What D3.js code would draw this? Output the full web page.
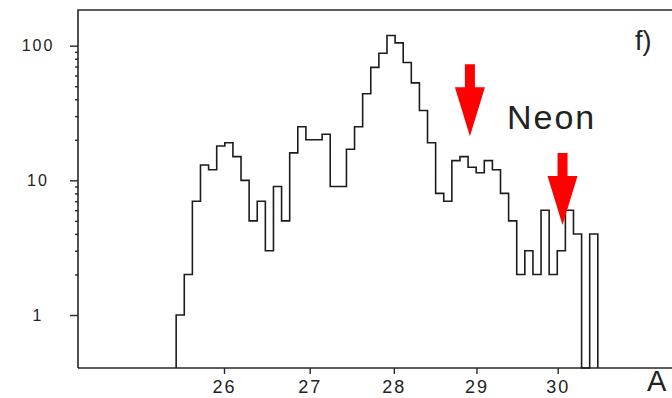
<!DOCTYPE html>
<html>
<head>
<meta charset="utf-8">
<script src="https://cdn.jsdelivr.net/npm/d3@7"></script>
<style>
  body { margin: 0; background: #fff; }
  svg { display: block; }
  text { font-family: "Liberation Sans", Arial, sans-serif; fill: #222; }
</style>
</head>
<body>
<script>
// Counts per channel of the mass histogram (log scale, uniform channels)
const counts = [1, 2, 7, 13, 12, 18, 19, 15, 10, 5, 7, 3, 9, 5, 16, 25, 20, 20, 22, 9,
                9, 17, 25, 44, 69, 88, 119, 105, 75, 53, 33, 19, 8, 7, 14, 15, 12.5, 11.4, 14, 12,
                8, 5, 2, 3, 2, 6, 2, 3, 6, 4, 0, 4];
// Mass range covered by the channels
const massLow = 25.45;
const massHigh = 30.5;
// Axis ticks
const massTicks = [26, 27, 28, 29, 30];
const countTicks = [1, 10, 100];
const minorCountTicks = [2, 3, 4, 5, 6, 7, 8, 9, 20, 30, 40, 50, 60, 70, 80, 90];
// Marked neon isotopes (arrow tips, in mass / count units)
const arrowTips = [
  { mass: 28.92, count: 21.3 },
  { mass: 30.06, count: 4.66 }
];
const panelLabel = "f)";
const elementLabel = "Neon";
const massAxisLabel = "A";

const W = 672, H = 398;
const frame = { left: 78, top: 10, right: 672, bottom: 368 };

const svg = d3.select("body").append("svg")
  .attr("width", W).attr("height", H);
svg.append("rect").attr("width", W).attr("height", H).attr("fill", "#fff");

// Mass axis is compressed toward high A (square-root spacing)
const x = d3.scalePow().exponent(0.5).domain([26, 30]).range([224, 557.7]);
const y = d3.scaleLog().domain([1, 100]).range([315, 45.7]);
const channel = d3.scaleLinear().domain([0, counts.length]).range([x(massLow), x(massHigh)]);

const yv = c => (c > 0 ? y(c) : frame.bottom);

// Frame
const ink = "#262626";
svg.append("path")
  .attr("d", `M${frame.left},${frame.bottom}V${frame.top}H${frame.right}`)
  .attr("fill", "none").attr("stroke", ink).attr("stroke-width", 1.6);
svg.append("line")
  .attr("x1", frame.left).attr("x2", frame.right)
  .attr("y1", frame.bottom).attr("y2", frame.bottom)
  .attr("stroke", ink).attr("stroke-width", 1.6);

// Bottom axis
const xAxis = svg.append("g")
  .attr("transform", `translate(0,${frame.bottom})`)
  .call(d3.axisBottom(x).tickValues(massTicks).tickSize(6).tickPadding(6).tickFormat(d3.format("d")));
xAxis.select(".domain").remove();
xAxis.selectAll("line").attr("stroke", ink).attr("stroke-width", 1.4);
xAxis.selectAll("text")
  .attr("font-size", 18).attr("letter-spacing", 2).attr("fill", "#222")
  .style("font-family", "'Liberation Sans', Arial, sans-serif");

// Left axis: major ticks with labels, minor ticks without
const yAxis = svg.append("g")
  .attr("transform", `translate(${frame.left},0)`)
  .call(d3.axisLeft(y).tickValues(countTicks).tickSize(8).tickFormat(d3.format("d")));
yAxis.select(".domain").remove();
yAxis.selectAll("line").attr("stroke", ink).attr("stroke-width", 1.4);
yAxis.selectAll("text")
  .attr("text-anchor", "middle").attr("x", -40)
  .attr("font-size", 16).attr("letter-spacing", 2).attr("fill", "#222")
  .style("font-family", "'Liberation Sans', Arial, sans-serif");

const yMinor = svg.append("g")
  .attr("transform", `translate(${frame.left},0)`)
  .call(d3.axisLeft(y).tickValues(minorCountTicks).tickSize(3).tickFormat(""));
yMinor.select(".domain").remove();
yMinor.selectAll("line").attr("stroke", ink).attr("stroke-width", 1.4);

// Histogram as a stepped outline
const pts = [[channel(0), frame.bottom]];
counts.forEach((c, i) => pts.push([channel(i), yv(c)]));
pts.push([channel(counts.length), yv(counts[counts.length - 1])]);
pts.push([channel(counts.length), frame.bottom]);
svg.append("path")
  .attr("d", d3.line().curve(d3.curveStepAfter)(pts))
  .attr("fill", "none").attr("stroke", "#1c1c1c").attr("stroke-width", 1.6)
  .attr("stroke-linejoin", "miter");

// Red arrows marking isotopes
const shaftHalf = 5, shaftLen = 72, headHalf = 15, headLen = 49;
svg.selectAll(".arrow").data(arrowTips).enter().append("path")
  .attr("class", "arrow")
  .attr("d", d => {
    const tx = x(d.mass), ty = y(d.count);
    return `M${tx - shaftHalf},${ty - shaftLen}H${tx + shaftHalf}V${ty - headLen}` +
           `H${tx + headHalf}L${tx},${ty}L${tx - headHalf},${ty - headLen}H${tx - shaftHalf}Z`;
  })
  .attr("fill", "#ff0000");

// Labels
svg.append("text").attr("x", 507).attr("y", 129)
  .attr("font-size", 34).attr("letter-spacing", 2).attr("fill", "#333")
  .text(elementLabel);
svg.append("text").attr("x", 635).attr("y", 50)
  .attr("font-size", 27)
  .text(panelLabel);
svg.append("text").attr("x", 647).attr("y", 391)
  .attr("font-size", 29)
  .text(massAxisLabel);
</script>
</body>
</html>
